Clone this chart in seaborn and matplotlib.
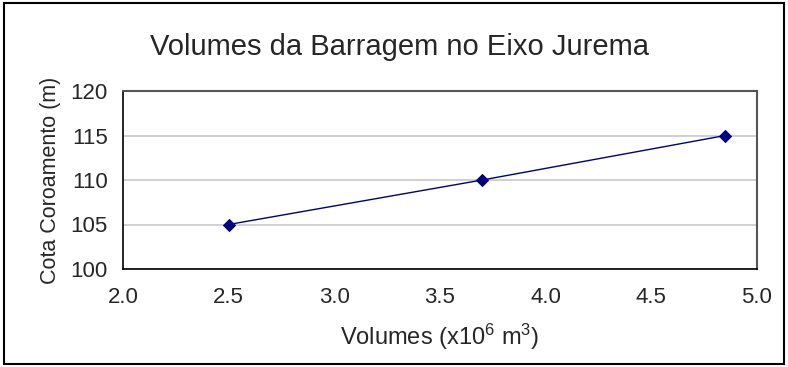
import matplotlib
matplotlib.use("Agg")
import matplotlib.pyplot as plt
from matplotlib.patches import Rectangle
import pandas as pd
import seaborn as sns

# Reservoir volume vs. crest elevation
volumes = [2.5, 3.7, 4.85]          # x10^6 m^3
cotas = [105, 110, 115]             # m
x_ticks = [2.0, 2.5, 3.0, 3.5, 4.0, 4.5, 5.0]
y_ticks = [100, 105, 110, 115, 120]

df = pd.DataFrame({"volume": volumes, "cota": cotas})

sns.set_style("white")
plt.rcParams["font.family"] = ["Liberation Sans", "DejaVu Sans"]
plt.rcParams["mathtext.fontset"] = "custom"
plt.rcParams["mathtext.rm"] = "Liberation Sans"
plt.rcParams["mathtext.default"] = "regular"

fig = plt.figure(figsize=(7.88, 3.67), dpi=100)
ax = fig.add_axes([123 / 788, 1 - 269 / 367, (757 - 123) / 788, (269 - 91) / 367])

sns.lineplot(data=df, x="volume", y="cota", ax=ax, color="#000080",
             linewidth=1.0, marker="D", markersize=6,
             markerfacecolor="#000080", markeredgecolor="#000080")

ax.set_xlim(2.0, 5.0)
ax.set_ylim(100, 120)
ax.set_xticks(x_ticks)
ax.set_xticklabels([f"{v:.1f}" for v in x_ticks])
ax.set_yticks(y_ticks)
ax.set_yticklabels([str(v) for v in y_ticks])

ax.yaxis.grid(True, color="#c8c8c8", linewidth=1.2)
ax.set_axisbelow(True)

for side in ["left", "bottom"]:
    ax.spines[side].set_color("black")
    ax.spines[side].set_linewidth(1.2)
for side in ["top", "right"]:
    ax.spines[side].set_color("#555555")
    ax.spines[side].set_linewidth(1.5)

ax.tick_params(axis="both", direction="out", length=5, width=1,
               color="black", labelsize=16, pad=6)
ax.tick_params(axis="x", pad=8)

ax.set_xlabel(r"Volumes (x10$^6$ m$^3$)", fontsize=17, labelpad=10)
ax.set_ylabel("Cota Coroamento (m)", fontsize=15.5, labelpad=7)

fig.text(400 / 788, 1 - 47 / 367, "Volumes da Barragem no Eixo Jurema",
         ha="center", va="center", fontsize=21)

# outer frame around the whole chart
fig.patches.append(Rectangle((4 / 788, 3 / 367), 780 / 788, 361 / 367,
                             transform=fig.transFigure, fill=False,
                             edgecolor="black", linewidth=1.5))

fig.savefig("out.png", dpi=100)
